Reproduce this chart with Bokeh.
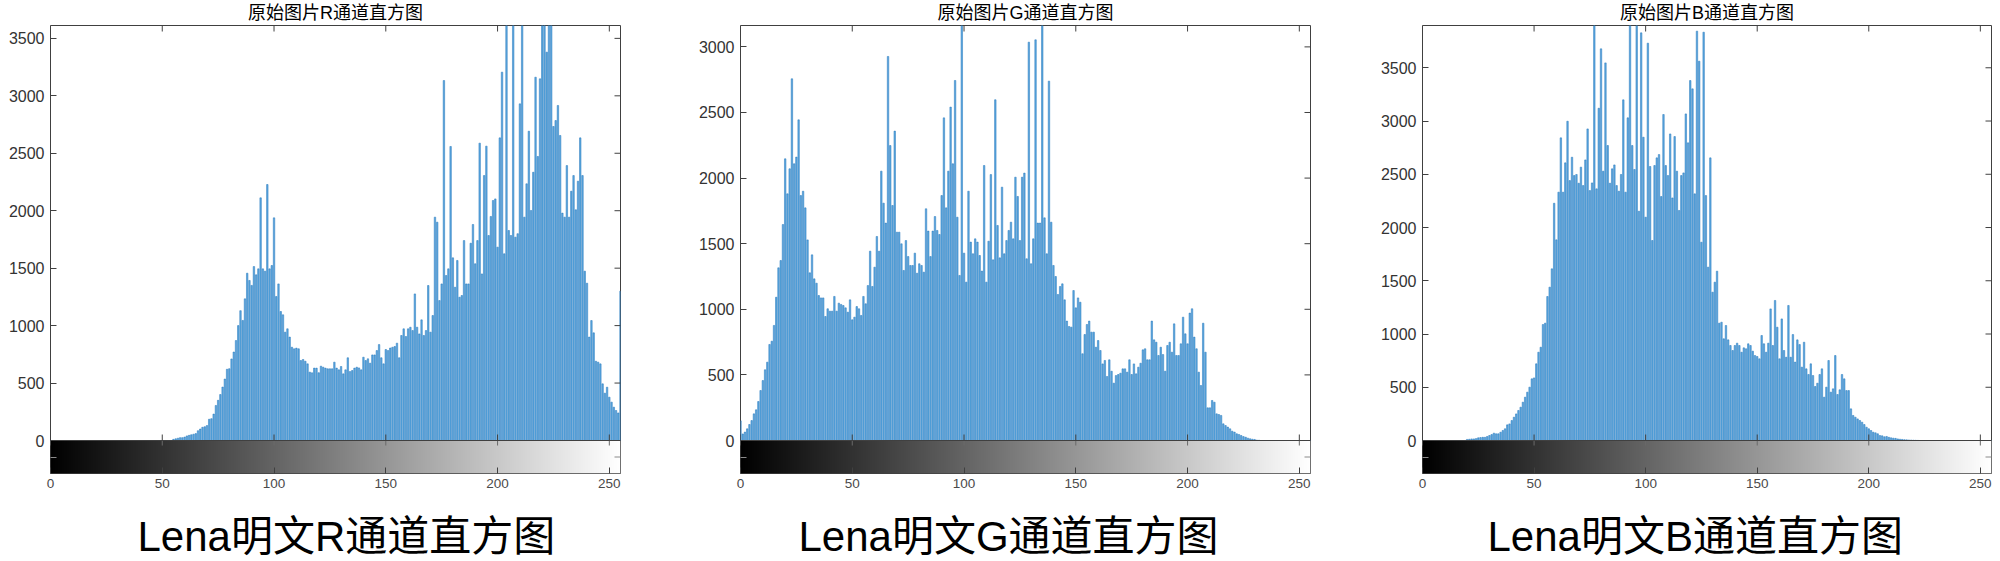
import numpy as np
from bokeh.plotting import figure
from bokeh.layouts import row
from bokeh.models import FixedTicker, Span, LinearColorMapper, Range1d, Title
from bokeh.palettes import Greys256
from bokeh.embed import file_html
from bokeh.resources import INLINE

# ---------------- data ----------------
levels = list(range(256))

r_counts = [0] * 55 + [
    10, 15, 20, 25, 25, 30, 40, 45, 50, 55,            # 55-64
    60, 85, 100, 115, 120, 130, 185, 190, 230, 305,    # 65-74
    350, 400, 465, 535, 620, 625, 710, 770, 870, 1000, # 75-84
    1130, 1045, 1233, 1456, 1393, 1350, 1514, 1442, 1494, 2112,  # 85-94
    1494, 1474, 2228, 1494, 1523, 1938, 1253, 1363, 1123, 1094,  # 95-104
    943, 972, 900, 812, 798, 804, 798, 696, 705, 690,   # 105-114
    667, 595, 589, 630, 630, 590, 647, 638, 630, 624,   # 115-124
    624, 624, 682, 630, 615, 644, 580, 615, 720, 600,   # 125-134
    609, 630, 638, 632, 615, 725, 696, 711, 673, 745,   # 135-144
    745, 783, 835, 720, 667, 792, 783, 805, 812, 818,   # 145-154
    847, 720, 914, 972, 905, 972, 986, 957, 1276, 986,  # 155-164
    928, 1050, 914, 957, 1349, 943, 1088, 1944, 1900, 1218,  # 165-174
    1363, 3133, 1436, 1494, 2559, 1590, 1334, 1567, 1247, 1262,  # 175-184
    1740, 1363, 1363, 1717, 1880, 1538, 1740, 2588, 1450, 2306,  # 185-194
    2562, 1784, 1950, 2089, 2103, 1683, 2634, 3206, 1625, 4300,  # 195-204
    1828, 1784, 4100, 1770, 1800, 2930, 3800, 1944, 2234, 2692,  # 205-214
    2002, 2335, 3162, 2472, 3148, 4200, 4500, 3380, 4400, 3900,  # 215-224
    2733, 2785, 2916, 2655, 1979, 1944, 2393, 1944, 2170, 2306,  # 225-234
    2008, 2257, 2634, 2306, 1474, 1369, 900, 1044, 937, 690,     # 235-244
    682, 667, 493, 412, 464, 377, 334, 290, 261, 240, 1300,      # 245-255
]

g_counts = [
    150, 50, 64, 89, 122, 152, 203, 234, 297, 381,      # 0-9
    457, 539, 597, 732, 757, 877, 1092, 1316, 1372, 1646,   # 10-19
    2147, 1880, 2071, 2757, 2109, 2160, 2444, 1867, 1900, 1773,  # 20-29
    1529, 1278, 1415, 1232, 1199, 1105, 1087, 1087, 945, 1004,   # 30-39
    986, 986, 1098, 986, 1047, 1037, 1029, 1011, 978, 1072,      # 40-49
    920, 940, 1021, 1004, 953, 1098, 1042, 1181, 1443, 1174,     # 50-59
    1321, 1555, 1443, 2053, 1809, 1657, 2927, 2248, 1791, 2358,  # 60-69
    1588, 1588, 1499, 1296, 1524, 1402, 1334, 1334, 1428, 1275,  # 70-79
    1347, 1334, 1283, 1766, 1596, 1402, 1596, 1707, 1601, 1570,  # 80-89
    1867, 2459, 1773, 2053, 2541, 2109, 2744, 1702, 1258, 3600,  # 90-99
    1428, 1207, 1900, 1512, 1423, 1537, 1512, 1410, 1291, 2096,  # 100-109
    1207, 1519, 2027, 1377, 2597, 1639, 1392, 1931, 1423, 1524,  # 110-119
    1601, 1664, 1537, 2007, 1860, 1524, 2007, 2038, 1385, 3036,  # 120-129
    1347, 1537, 3054, 1657, 1657, 3400, 1697, 1423, 2739, 1664,  # 130-139
    1334, 1250, 1113, 1174, 1194, 1072, 910, 869, 864, 1143,     # 140-149
    1011, 1087, 1054, 661, 808, 884, 910, 826, 826, 711,         # 150-159
    762, 686, 584, 610, 488, 615, 528, 437, 495, 503,            # 160-169
    513, 546, 546, 521, 615, 503, 584, 508, 559, 589,            # 170-179
    691, 699, 615, 615, 910, 767, 749, 648, 711, 655,            # 180-189
    528, 724, 749, 673, 889, 648, 648, 737, 940, 813,            # 190-199
    737, 971, 1004, 788, 699, 521, 419, 894, 673, 249,           # 200-209
    249, 305, 292, 203, 198, 191, 127, 114, 102, 89,             # 210-219
    71, 64, 51, 46, 38, 30, 25, 18, 13, 10,                      # 220-229
    8, 3, 2,                                                      # 230-232
] + [0] * 23

b_counts = [0] * 20 + [
    10, 12, 15, 15, 18,                                           # 20-24
    25, 28, 30, 30, 38, 47, 56, 69, 63, 63,                       # 25-34
    78, 94, 110, 147, 156, 188, 219, 250, 282, 313,               # 35-44
    360, 407, 454, 501, 579, 588, 720, 829, 876, 1089,            # 45-54
    1102, 1352, 1440, 1612, 2228, 1884, 2332, 2842, 2332, 2607,   # 55-64
    2998, 2441, 2660, 2488, 2498, 2416, 2567, 2394, 2635, 2926,   # 65-74
    2347, 2419, 4000, 2363, 3120, 3678, 2529, 3546, 2770, 2416,   # 75-84
    2551, 2588, 2394, 2341, 2498, 3199, 2332, 3030, 4100, 2770,   # 85-94
    2545, 3950, 2153, 3828, 2848, 2097, 3731, 2573, 1878, 2582,   # 95-104
    2654, 2685, 2291, 3061, 2582, 2488, 2879, 2278, 2854, 2529,   # 105-114
    2160, 2488, 2513, 3067, 2795, 3380, 3302, 2316, 3844, 3562,   # 115-124
    1862, 3834, 2300, 1628, 2654, 1393, 1487, 1590, 1102, 1111,   # 125-134
    955, 1080, 945, 892, 845, 892, 914, 892, 829, 870,            # 135-144
    861, 908, 892, 839, 798, 789, 767, 986, 908, 829,             # 145-154
    914, 1236, 892, 1315, 1064, 767, 1142, 845, 782, 1268,        # 155-164
    782, 995, 736, 945, 901, 689, 923, 673, 620, 720,             # 165-174
    610, 507, 538, 620, 673, 407, 501, 751, 454, 485,             # 175-184
    798, 432, 476, 620, 579, 469, 469, 297, 235, 219,             # 185-194
    203, 188, 172, 150, 125, 110, 94, 78, 72, 63,                 # 195-204
    47, 44, 35, 38, 30, 25, 22, 20, 15, 12,                       # 205-214
    10, 8, 6, 5, 4, 3, 2, 1,                                      # 215-222
] + [0] * 33

x_ticks = [0, 50, 100, 150, 200, 250]
r_yticks = [0, 500, 1000, 1500, 2000, 2500, 3000, 3500]
g_yticks = [0, 500, 1000, 1500, 2000, 2500, 3000]
b_yticks = [0, 500, 1000, 1500, 2000, 2500, 3000, 3500]

r_ymax, g_ymax, b_ymax = 3612, 3163, 3897

titles = ["原始图片R通道直方图", "原始图片G通道直方图", "原始图片B通道直方图"]
captions = ["Lena明文R通道直方图", "Lena明文G通道直方图", "Lena明文B通道直方图"]

# ---------------- style ----------------
FIG_H = 561
TOP_PX = 25
HIST_PX = 415      # histogram part of the frame
CBAR_PX = 33       # gray-level bar below
FRAME_H = HIST_PX + CBAR_PX
BOTTOM_PX = FIG_H - TOP_PX - FRAME_H
TICK_PX = 6
AX_COLOR = "#404040"
BAR_FILL = "#5FAAE0"
BAR_LINE = "#2374BA"
NUM_FONT = "Liberation Sans"
MIX_FONT = "Liberation Sans, Noto Sans CJK SC"


def make_panel(counts, yticks, ymax, title, caption, width, bl, br, frame_w, cap_left):
    ymin = -ymax * CBAR_PX / HIST_PX
    y_per_px = (ymax - ymin) / FRAME_H
    x_per_px = 255.0 / frame_w
    p = figure(width=width, height=FIG_H, x_range=Range1d(0, 255),
               y_range=Range1d(ymin, ymax), output_backend="svg",
               toolbar_location=None, title=title,
               min_border_left=bl, min_border_right=br,
               min_border_top=TOP_PX, min_border_bottom=BOTTOM_PX)
    p.grid.visible = False
    p.outline_line_color = AX_COLOR
    p.outline_line_width = 1
    p.background_fill_color = "white"
    p.border_fill_color = "white"

    p.title.align = "center"
    p.title.vertical_align = "top"
    p.title.text_font = MIX_FONT
    p.title.text_font_size = "18px"
    p.title.text_font_style = "normal"
    p.title.text_color = "black"
    p.title.standoff = 2

    # gray-level bar
    mapper = LinearColorMapper(palette=Greys256, low=0, high=255)
    p.image(image=[np.array(levels, dtype=float).reshape(1, 256)], x=0, y=ymin,
            dw=255, dh=-ymin, color_mapper=mapper)

    # histogram bars
    p.vbar(x=levels, top=counts, bottom=0, width=0.66,
           fill_color=BAR_FILL, line_color=BAR_LINE, line_width=0.5)

    p.add_layout(Span(location=0, dimension="width", line_color=AX_COLOR, line_width=1))

    n = len(x_ticks)
    # inner ticks: histogram bottom (up), gray bar top (down), frame top (down)
    p.segment(x0=x_ticks, x1=x_ticks, y0=[0] * n, y1=[TICK_PX * y_per_px] * n,
              line_color=AX_COLOR, line_width=1)
    p.segment(x0=x_ticks, x1=x_ticks, y0=[0] * n, y1=[-5 * y_per_px] * n,
              line_color="#6a6a6a", line_width=1)
    p.segment(x0=x_ticks, x1=x_ticks, y0=[ymax] * n, y1=[ymax - TICK_PX * y_per_px] * n,
              line_color=AX_COLOR, line_width=1)
    # right-side inner ticks
    m = len(yticks)
    p.segment(x0=[255] * m, x1=[255 - TICK_PX * x_per_px] * m, y0=yticks, y1=yticks,
              line_color=AX_COLOR, line_width=1)
    p.segment(x0=[255], x1=[255 - TICK_PX * x_per_px], y0=[ymin / 2], y1=[ymin / 2],
              line_color="#8a8a8a", line_width=1)

    yt = FixedTicker(ticks=yticks, minor_ticks=[ymin / 2])
    xt = FixedTicker(ticks=x_ticks, minor_ticks=[])

    left = p.yaxis[0]
    left.ticker = yt
    left.axis_line_color = None
    left.major_tick_in = TICK_PX
    left.major_tick_out = 0
    left.minor_tick_in = TICK_PX
    left.minor_tick_out = 0
    left.major_tick_line_color = AX_COLOR
    left.minor_tick_line_color = "#8a8a8a"
    left.major_label_text_font = NUM_FONT
    left.major_label_text_font_size = "16px"
    left.major_label_text_color = "#333333"
    left.major_label_standoff = 6

    below = p.xaxis[0]
    below.ticker = xt
    below.axis_line_color = None
    below.major_tick_in = TICK_PX
    below.major_tick_out = 0
    below.minor_tick_line_color = None
    below.major_tick_line_color = AX_COLOR
    below.major_label_text_font = NUM_FONT
    below.major_label_text_font_size = "13.5px"
    below.major_label_text_color = "#4a4a4a"
    below.major_label_standoff = 5
    # blank axis label used only as vertical spacing above the caption
    below.axis_label = " "
    below.axis_label_text_font_size = "2px"
    below.axis_label_standoff = 15

    cap = Title(text=caption, align="left", vertical_align="bottom", offset=cap_left,
                text_font=MIX_FONT, text_font_size="42px", text_font_style="normal",
                text_color="black", standoff=0)
    p.add_layout(cap, "below")
    return p


p1 = make_panel(r_counts, r_yticks, r_ymax, titles[0], captions[0], 640, 50, 20, 570, 87)
p2 = make_panel(g_counts, g_yticks, g_ymax, titles[1], captions[1], 688, 100, 18, 570, 58)
p3 = make_panel(b_counts, b_yticks, b_ymax, titles[2], captions[2], 672, 94, 9, 569, 65)

layout = row(p1, p2, p3)
open("out.html", "w").write(file_html(layout, INLINE))
